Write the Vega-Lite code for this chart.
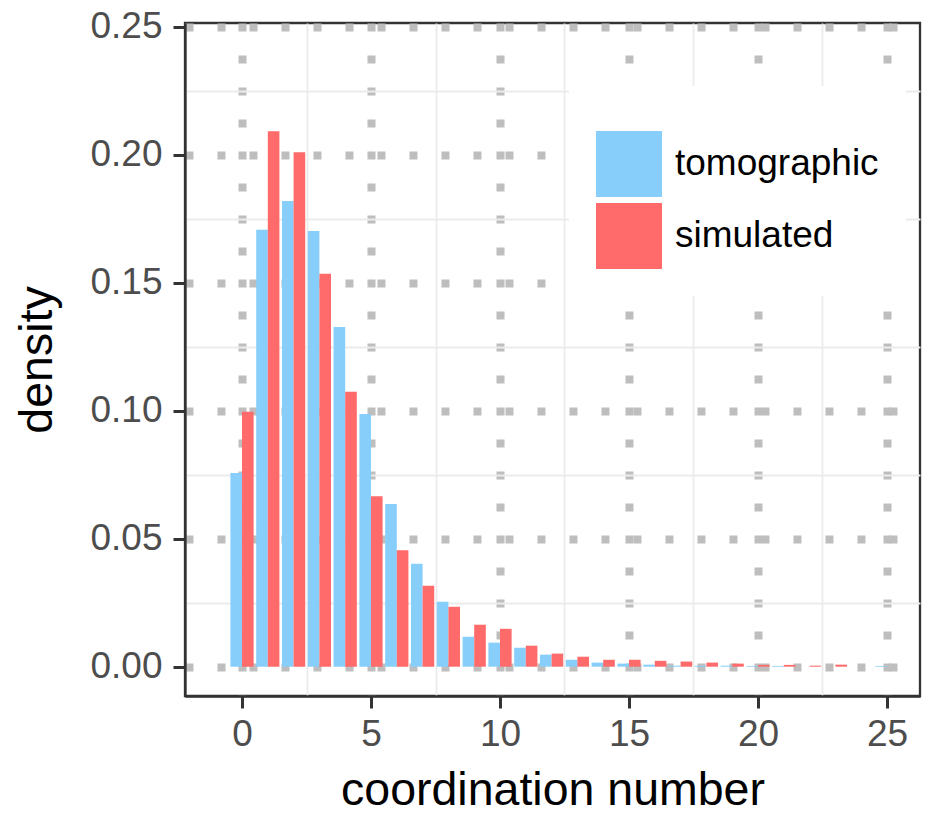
{
  "$schema": "https://vega.github.io/schema/vega-lite/v6.json",
  "width": 735,
  "height": 673,
  "autosize": {"type": "none"},
  "padding": {"left": 185, "top": 23, "right": 24, "bottom": 130},
  "background": "white",
  "config": {
    "font": "Liberation Sans",
    "view": {"stroke": "#333333", "strokeWidth": 2.3},
    "axis": {
      "labelFont": "Liberation Sans",
      "titleFont": "Liberation Sans",
      "labelColor": "#4D4D4D",
      "labelFontSize": 37,
      "titleFontSize": 46.5,
      "titleColor": "black",
      "titleFontWeight": "normal",
      "tickColor": "#333333",
      "tickWidth": 3,
      "tickSize": 12,
      "domainColor": "#333333",
      "domainWidth": 2.3
    }
  },
  "data": {
    "values": [
      {"n": 0, "type": "tomographic", "density": 0.0757},
      {"n": 1, "type": "tomographic", "density": 0.1707},
      {"n": 2, "type": "tomographic", "density": 0.1819},
      {"n": 3, "type": "tomographic", "density": 0.1702},
      {"n": 4, "type": "tomographic", "density": 0.1327},
      {"n": 5, "type": "tomographic", "density": 0.0987},
      {"n": 6, "type": "tomographic", "density": 0.0636},
      {"n": 7, "type": "tomographic", "density": 0.0402},
      {"n": 8, "type": "tomographic", "density": 0.0254},
      {"n": 9, "type": "tomographic", "density": 0.0117},
      {"n": 10, "type": "tomographic", "density": 0.0094},
      {"n": 11, "type": "tomographic", "density": 0.0074},
      {"n": 12, "type": "tomographic", "density": 0.0047},
      {"n": 13, "type": "tomographic", "density": 0.0027},
      {"n": 14, "type": "tomographic", "density": 0.0016},
      {"n": 15, "type": "tomographic", "density": 0.0012},
      {"n": 16, "type": "tomographic", "density": 0.0008},
      {"n": 17, "type": "tomographic", "density": 0.0004},
      {"n": 18, "type": "tomographic", "density": 0.0004},
      {"n": 19, "type": "tomographic", "density": 0.0004},
      {"n": 20, "type": "tomographic", "density": 0.0003},
      {"n": 21, "type": "tomographic", "density": 0.0003},
      {"n": 22, "type": "tomographic", "density": 0},
      {"n": 23, "type": "tomographic", "density": 0},
      {"n": 24, "type": "tomographic", "density": 0},
      {"n": 25, "type": "tomographic", "density": 0.0003},
      {"n": 0, "type": "simulated", "density": 0.0996},
      {"n": 1, "type": "simulated", "density": 0.2092},
      {"n": 2, "type": "simulated", "density": 0.2010},
      {"n": 3, "type": "simulated", "density": 0.1535},
      {"n": 4, "type": "simulated", "density": 0.1074},
      {"n": 5, "type": "simulated", "density": 0.0666},
      {"n": 6, "type": "simulated", "density": 0.0455},
      {"n": 7, "type": "simulated", "density": 0.0316},
      {"n": 8, "type": "simulated", "density": 0.0234},
      {"n": 9, "type": "simulated", "density": 0.0164},
      {"n": 10, "type": "simulated", "density": 0.0148},
      {"n": 11, "type": "simulated", "density": 0.0082},
      {"n": 12, "type": "simulated", "density": 0.0051},
      {"n": 13, "type": "simulated", "density": 0.0039},
      {"n": 14, "type": "simulated", "density": 0.0027},
      {"n": 15, "type": "simulated", "density": 0.0027},
      {"n": 16, "type": "simulated", "density": 0.0023},
      {"n": 17, "type": "simulated", "density": 0.0020},
      {"n": 18, "type": "simulated", "density": 0.0016},
      {"n": 19, "type": "simulated", "density": 0.0012},
      {"n": 20, "type": "simulated", "density": 0.0007},
      {"n": 21, "type": "simulated", "density": 0.0007},
      {"n": 22, "type": "simulated", "density": 0.0004},
      {"n": 23, "type": "simulated", "density": 0.0008},
      {"n": 24, "type": "simulated", "density": 0},
      {"n": 25, "type": "simulated", "density": 0}
    ]
  },
  "layer": [
    {
      "transform": [{"filter": "datum.type === 'tomographic'"}],
      "mark": {"type": "bar", "width": 11.6, "xOffset": -5.8},
      "encoding": {
        "x": {
          "field": "n",
          "type": "quantitative",
          "scale": {"domain": [-2.21, 26.28], "nice": false, "zero": false, "padding": 0},
          "axis": {
            "orient": "bottom",
            "values": [0, 5, 10, 15, 20, 25],
            "grid": true,
            "gridColor": "#BEBEBE",
            "gridWidth": 8,
            "gridDash": [8, 24],
            "labelPadding": 8,
            "title": "coordination number",
            "titlePadding": 15
          }
        },
        "y": {
          "field": "density",
          "type": "quantitative",
          "scale": {"domain": [-0.01145, 0.25145], "nice": false, "zero": false},
          "axis": {
            "orient": "left",
            "values": [0, 0.05, 0.1, 0.15, 0.2, 0.25],
            "format": ".2f",
            "grid": true,
            "gridColor": "#BEBEBE",
            "gridWidth": 8,
            "gridDash": [8, 24],
            "labelPadding": 11,
            "title": "density",
            "titlePadding": 28
          }
        },
        "color": {
          "field": "type",
          "type": "nominal",
          "scale": {"domain": ["tomographic", "simulated"], "range": ["#87CEFA", "#FF6A6A"]},
          "legend": {
            "orient": "none",
            "legendX": 384,
            "legendY": 63,
            "title": " ",
            "titleFontSize": 10,
            "titlePadding": 8,
            "padding": 27,
            "fillColor": "white",
            "symbolType": "square",
            "symbolSize": 4356,
            "symbolStrokeWidth": 0,
            "symbolOpacity": 1,
            "labelFont": "Liberation Sans",
            "labelFontSize": 37,
            "labelColor": "black",
            "labelOffset": 13,
            "labelLimit": 0,
            "rowPadding": 6
          }
        }
      }
    },
    {
      "transform": [{"filter": "datum.type === 'simulated'"}],
      "mark": {"type": "bar", "width": 11.6, "xOffset": 5.8},
      "encoding": {
        "x": {
          "field": "n",
          "type": "quantitative",
          "axis": {
            "orient": "bottom",
            "values": [2.5, 7.5, 12.5, 17.5, 22.5],
            "grid": true,
            "gridColor": "#EBEBEB",
            "gridWidth": 1.8,
            "labels": false,
            "ticks": false,
            "domain": false,
            "title": null
          }
        },
        "y": {
          "field": "density",
          "type": "quantitative",
          "axis": {
            "orient": "left",
            "values": [0.025, 0.075, 0.125, 0.175, 0.225],
            "grid": true,
            "gridColor": "#EBEBEB",
            "gridWidth": 1.8,
            "labels": false,
            "ticks": false,
            "domain": false,
            "title": null
          }
        },
        "color": {"field": "type", "type": "nominal"}
      }
    }
  ],
  "resolve": {"axis": {"x": "independent", "y": "independent"}}
}
